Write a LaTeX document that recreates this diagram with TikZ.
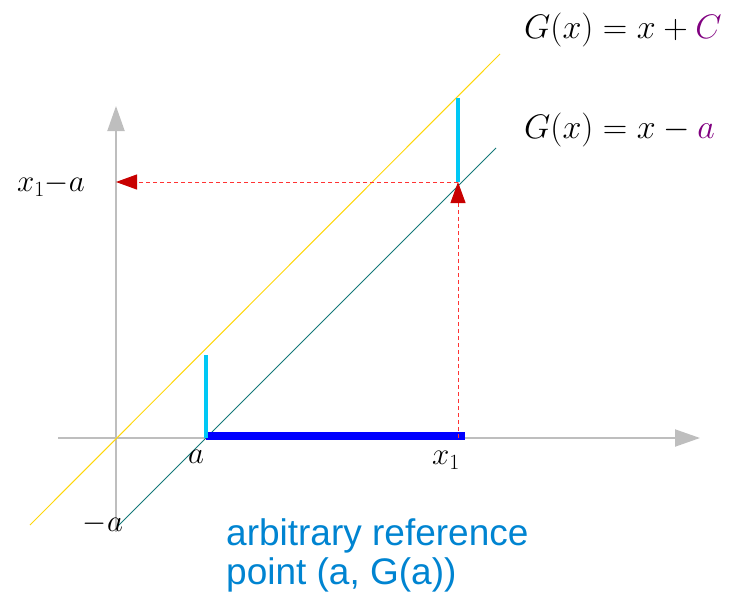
\RequirePackage{fix-cm}
\documentclass[tikz,border=0pt]{standalone}
\usepackage{fontspec}
\setsansfont{Liberation Sans}
\usetikzlibrary{arrows.meta}
\definecolor{axisgray}{RGB}{190,190,190}
\definecolor{linegold}{RGB}{255,214,10}
\definecolor{lineteal}{RGB}{20,120,120}
\definecolor{segcyan}{RGB}{0,200,245}
\definecolor{gpurple}{RGB}{128,0,128}
\definecolor{tipred}{RGB}{200,0,0}
\definecolor{notecolor}{RGB}{0,132,209}

\begin{document}
\begin{tikzpicture}[x=1pt,y=-1pt,
  axis/.style={draw=axisgray,line width=2pt,-{Triangle[length=25pt,width=17pt,fill=axisgray]}},
  guide/.style={draw=red!80,line width=1pt,dash pattern=on 4pt off 3pt,-{Triangle[length=21pt,width=15pt,fill=tipred,color=tipred]}},
  lbl/.style={font=\fontsize{31}{33}\selectfont,inner sep=1pt},
  glbl/.style={font=\fontsize{34}{36}\selectfont,inner sep=0pt,anchor=west}]
\useasboundingbox (0,0) rectangle (742,595);
% points
\coordinate (o) at (116,438);
\coordinate (a) at (206,438);
\coordinate (x1) at (458,438);
\coordinate (p) at (458,182);
\coordinate (q) at (116,182);
% axes
\coordinate (xl) at (58,438);
\coordinate (xr) at (700,438);
\coordinate (yb) at (116,532);
\coordinate (yt) at (116,106);
\draw[axis] (xl) -- (xr);
\draw[axis] (yb) -- (yt);
% the two lines
\coordinate (cs) at (30,525);
\coordinate (ce) at (500,54);
\coordinate (ts) at (118,526);
\coordinate (te) at (496,148);
\draw[linegold,line width=1pt] (cs) -- (ce);
\draw[lineteal,line width=1pt] (ts) -- (te);
% interval and offsets
\coordinate (ab) at (206,436);
\coordinate (xb) at (465,436);
\draw[blue,line width=8pt] (ab) -- (xb);
\coordinate (au) at (206,355);
\coordinate (pu) at (458,98);
\draw[segcyan,line width=4pt] (a) -- (au);
\draw[segcyan,line width=4pt] (p) -- (pu);
% reading off
\draw[guide] (x1) -- (p);
\draw[guide] (p) -- (q);
% labels
\node[glbl] (gc) at (524,30) {$G\bigl(x\bigr) = x + \textcolor{gpurple}{C}$};
\node[glbl] (ga) at (524,130) {$G\bigl(x\bigr) = x - \textcolor{gpurple}{a}$};
\node[lbl] (lx1a) at (51,185) {$x_1{-}a$};
\node[lbl] (la) at (196,457) {$a$};
\node[lbl] (lx1) at (446,460) {$x_1$};
\node[lbl] (lma) at (103,524) {$-a$};
\node[font=\sffamily\fontsize{37}{39}\selectfont,text=notecolor,align=left,anchor=north west,inner sep=0pt] (note) at (226,518) {arbitrary reference\\point (a, G(a))};
\end{tikzpicture}
\end{document}
